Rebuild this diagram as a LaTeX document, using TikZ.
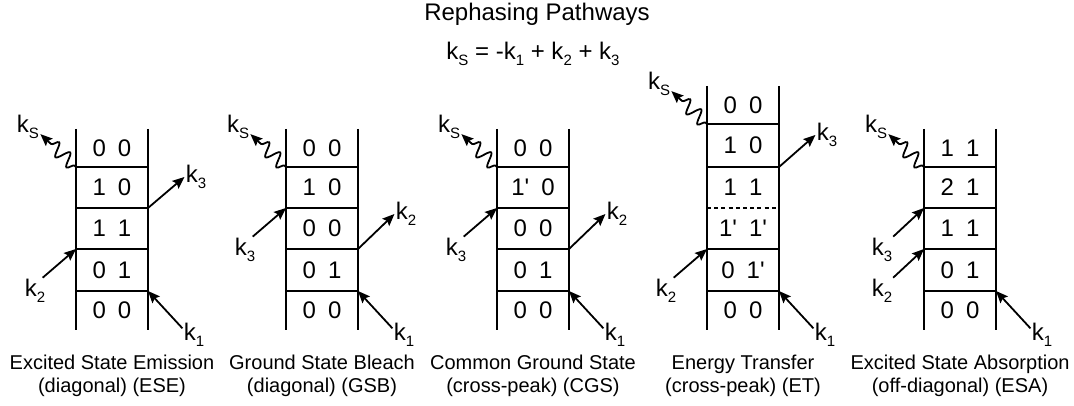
\documentclass[tikz,border=0pt]{standalone}
\usepackage{fontspec}
\setmainfont{Liberation Sans}
\usetikzlibrary{arrows.meta,decorations.pathmorphing}
\newcommand{\lv}[2]{#1\hspace{0.5em}#2}
\newcommand{\kk}[1]{k\raisebox{-3.2pt}{\fontsize{7.5}{8}\selectfont #1}}
\newcommand{\pr}{1\textquotesingle}
\tikzset{
  ln/.style={line width=0.9pt},
  arr/.style={line width=0.9pt, -{Stealth[length=6pt,width=5pt,inset=1pt]}},
  wav/.style={arr, decorate, decoration={snake, amplitude=3.4pt, segment length=7.5pt, pre length=1pt, post length=5pt}},
  lvl/.style={font=\fontsize{12}{14}\selectfont},
  klab/.style={font=\fontsize{12}{14}\selectfont, inner sep=0.5pt},
  captext/.style={align=center, font=\fontsize{10}{11.5}\selectfont}
}

\begin{document}
\begin{tikzpicture}[x=0.5pt, y=-0.5pt]
\useasboundingbox (0,0) rectangle (1074,406);
\node[font=\fontsize{12}{14}\selectfont] (title) at (537,14) {Rephasing Pathways};
\node[font=\fontsize{12}{14}\selectfont] (eqn) at (533,54) {\kk{S} = -\kk1 + \kk2 + \kk3};

% excited state emission
\begin{scope}[shift={(76,0)}]
\draw[ln] (0,129) -- (0,330) (72,129) -- (72,330);
\foreach \y in {167,208,249,291} \draw[ln] (0,\y) -- (72,\y);
\coordinate (a1) at (0,167); \coordinate (a2) at (72,208); \coordinate (a3) at (0,249); \coordinate (a4) at (72,291);
\node[lvl] (aR1) at (36,148) {\lv00}; \node[lvl] (aR2) at (36,187.5) {\lv10}; \node[lvl] (aR3) at (36,228.5) {\lv11};
\node[lvl] (aR4) at (36,270) {\lv01}; \node[lvl] (aR5) at (36,310.5) {\lv00};
\node[klab] (aS) at (-48,127) {\kk{S}}; \draw[wav] (a1) -- (aS.-30);
\node[klab] (aK3) at (120,177) {\kk3}; \draw[arr] (a2) -- (aK3.west);
\node[klab] (aK2) at (-41,291) {\kk2}; \draw[arr] (aK2.60) -- (a3);
\node[klab] (aK1) at (118,335) {\kk1}; \draw[arr] (aK1.150) -- (a4);
\node[captext] (aC) at (36,376) {Excited State Emission\\(diagonal) (ESE)};
\end{scope}

% ground state bleach
\begin{scope}[shift={(286,0)}]
\draw[ln] (0,129) -- (0,330) (72,129) -- (72,330);
\foreach \y in {167,208,249,291} \draw[ln] (0,\y) -- (72,\y);
\coordinate (b1) at (0,167); \coordinate (b2) at (0,208); \coordinate (b3) at (72,249); \coordinate (b4) at (72,291);
\node[lvl] (bR1) at (36,148) {\lv00}; \node[lvl] (bR2) at (36,187.5) {\lv10}; \node[lvl] (bR3) at (36,228.5) {\lv00};
\node[lvl] (bR4) at (36,270) {\lv01}; \node[lvl] (bR5) at (36,310.5) {\lv00};
\node[klab] (bS) at (-48,127) {\kk{S}}; \draw[wav] (b1) -- (bS.-30);
\node[klab] (bK3) at (-41,250) {\kk3}; \draw[arr] (bK3.60) -- (b2);
\node[klab] (bK2) at (120,214) {\kk2}; \draw[arr] (b3) -- (bK2.west);
\node[klab] (bK1) at (118,335) {\kk1}; \draw[arr] (bK1.150) -- (b4);
\node[captext] (bC) at (36,376) {Ground State Bleach\\(diagonal) (GSB)};
\end{scope}

% common ground state
\begin{scope}[shift={(497,0)}]
\draw[ln] (0,129) -- (0,330) (72,129) -- (72,330);
\foreach \y in {167,208,249,291} \draw[ln] (0,\y) -- (72,\y);
\coordinate (c1) at (0,167); \coordinate (c2) at (0,208); \coordinate (c3) at (72,249); \coordinate (c4) at (72,291);
\node[lvl] (cR1) at (36,148) {\lv00}; \node[lvl] (cR2) at (36,187.5) {\lv{\pr}0}; \node[lvl] (cR3) at (36,228.5) {\lv00};
\node[lvl] (cR4) at (36,270) {\lv01}; \node[lvl] (cR5) at (36,310.5) {\lv00};
\node[klab] (cS) at (-48,127) {\kk{S}}; \draw[wav] (c1) -- (cS.-30);
\node[klab] (cK3) at (-41,250) {\kk3}; \draw[arr] (cK3.60) -- (c2);
\node[klab] (cK2) at (120,214) {\kk2}; \draw[arr] (c3) -- (cK2.west);
\node[klab] (cK1) at (118,335) {\kk1}; \draw[arr] (cK1.150) -- (c4);
\node[captext] (cC) at (36,376) {Common Ground State\\(cross-peak) (CGS)};
\end{scope}

% energy transfer
\begin{scope}[shift={(707,0)}]
\draw[ln] (0,86) -- (0,330) (72,86) -- (72,330);
\foreach \y in {124,167,249,291} \draw[ln] (0,\y) -- (72,\y);
\draw[line width=0.7pt, dash pattern=on 2pt off 1.6pt] (0,208) -- (72,208);
\coordinate (d1) at (0,124); \coordinate (d2) at (72,167); \coordinate (d3) at (0,249); \coordinate (d4) at (72,291);
\node[lvl] (dR0) at (36,105) {\lv00}; \node[lvl] (dR1) at (36,145.5) {\lv10}; \node[lvl] (dR2) at (36,187.5) {\lv11};
\node[lvl] (dR3) at (36,228.5) {\lv{\pr}{\pr}}; \node[lvl] (dR4) at (36,270) {\lv0{\pr}}; \node[lvl] (dR5) at (36,310.5) {\lv00};
\node[klab] (dS) at (-48,84) {\kk{S}}; \draw[wav] (d1) -- (dS.-30);
\node[klab] (dK3) at (120,135) {\kk3}; \draw[arr] (d2) -- (dK3.west);
\node[klab] (dK2) at (-41,291) {\kk2}; \draw[arr] (dK2.60) -- (d3);
\node[klab] (dK1) at (118,335) {\kk1}; \draw[arr] (dK1.150) -- (d4);
\node[captext] (dC) at (36,376) {Energy Transfer\\(cross-peak) (ET)};
\end{scope}

% excited state absorption
\begin{scope}[shift={(924,0)}]
\draw[ln] (0,129) -- (0,330) (72,129) -- (72,330);
\foreach \y in {167,208,249,291} \draw[ln] (0,\y) -- (72,\y);
\coordinate (e1) at (0,167); \coordinate (e2) at (0,208); \coordinate (e3) at (0,249); \coordinate (e4) at (72,291);
\node[lvl] (eR1) at (36,148) {\lv11}; \node[lvl] (eR2) at (36,187.5) {\lv21}; \node[lvl] (eR3) at (36,228.5) {\lv11};
\node[lvl] (eR4) at (36,270) {\lv01}; \node[lvl] (eR5) at (36,310.5) {\lv00};
\node[klab] (eS) at (-48,127) {\kk{S}}; \draw[wav] (e1) -- (eS.-30);
\node[klab] (eK3) at (-42,250) {\kk3}; \draw[arr] (eK3.50) -- (e2);
\node[klab] (eK2) at (-42,291) {\kk2}; \draw[arr] (eK2.50) -- (e3);
\node[klab] (eK1) at (118,335) {\kk1}; \draw[arr] (eK1.150) -- (e4);
\node[captext] (eC) at (36,376) {Excited State Absorption\\(off-diagonal) (ESA)};
\end{scope}
\end{tikzpicture}
\end{document}
